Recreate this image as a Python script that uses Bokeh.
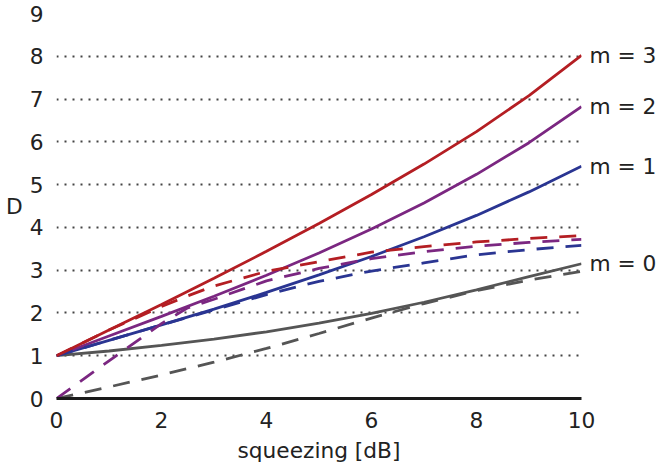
import json
from bokeh.plotting import figure
from bokeh.models import FixedTicker, Range1d, LinearAxis, CustomJSTickFormatter
from bokeh.embed import file_html
from bokeh.resources import INLINE

# data
x_solid = [0, 1, 2, 3, 4, 5, 6, 7, 8, 9, 10]
m3_solid = [1, 1.6, 2.2, 2.81, 3.44, 4.09, 4.77, 5.48, 6.24, 7.08, 8.02]
m2_solid = [1, 1.46, 1.92, 2.39, 2.88, 3.4, 3.96, 4.57, 5.24, 5.98, 6.82]
m1_solid = [1, 1.36, 1.72, 2.09, 2.48, 2.89, 3.32, 3.78, 4.28, 4.83, 5.43]
m0_solid = [1, 1.11, 1.24, 1.39, 1.56, 1.76, 1.99, 2.25, 2.54, 2.85, 3.15]

x_dash = [0, 1, 2, 2.5, 3, 4, 5, 6, 7, 8, 9, 10]
m3_dash = [1, 1.6, 2.15, 2.4, 2.63, 2.97, 3.2, 3.42, 3.55, 3.66, 3.74, 3.81]
m2_dash = [0, 0.88, 1.75, 2.12, 2.32, 2.75, 3.04, 3.27, 3.43, 3.56, 3.65, 3.72]
m1_dash = [1, 1.36, 1.72, 1.9, 2.07, 2.43, 2.74, 2.98, 3.17, 3.36, 3.48, 3.58]
m0_dash = [0, 0.27, 0.55, 0.7, 0.85, 1.17, 1.52, 1.88, 2.22, 2.52, 2.77, 2.97]

labels = ["m = 0", "m = 1", "m = 2", "m = 3"]
x_ticks = [0, 2, 4, 6, 8, 10]
y_ticks = [0, 1, 2, 3, 4, 5, 6, 7, 8, 9]

colors = ["#555555", "#2a3592", "#7b2781", "#b41e23"]
FONT = "DejaVu Sans"
FS = "21.7px"
TXT = "#222222"

p = figure(width=661, height=465, output_backend="svg", toolbar_location=None,
           x_range=Range1d(0, 10), y_range=Range1d(0, 9),
           min_border_left=56, min_border_right=80, min_border_top=13, min_border_bottom=60)
p.outline_line_color = None
p.background_fill_color = "white"
p.border_fill_color = "white"

p.xgrid.grid_line_color = None
p.ygrid.grid_line_color = "#444444"
p.ygrid.grid_line_width = 1.8
p.ygrid.grid_line_dash = "2 6"
p.ygrid.ticker = FixedTicker(ticks=y_ticks)


def style_axis(ax):
    ax.major_tick_line_color = None
    ax.minor_tick_line_color = None
    ax.major_label_text_font = FONT
    ax.major_label_text_font_size = FS
    ax.major_label_text_color = TXT
    ax.axis_label_text_font = FONT
    ax.axis_label_text_font_size = FS
    ax.axis_label_text_font_style = "normal"
    ax.axis_label_text_color = TXT


xax = p.below[0]
yax = p.left[0]
style_axis(xax)
style_axis(yax)

xax.ticker = FixedTicker(ticks=x_ticks)
xax.axis_line_width = 3
xax.axis_line_color = "#1a1a1a"
xax.axis_label = "squeezing [dB]"
xax.major_label_standoff = 7
xax.axis_label_standoff = 7

yax.ticker = FixedTicker(ticks=y_ticks)
yax.axis_line_color = None
yax.axis_label = "D"
yax.axis_label_orientation = "horizontal"
yax.major_label_standoff = 7
yax.axis_label_standoff = 4

solids = [m0_solid, m1_solid, m2_solid, m3_solid]
dashes = [m0_dash, m1_dash, m2_dash, m3_dash]

for ys, c in zip(solids, colors):
    p.line(x_solid, ys, line_color=c, line_width=2.8)
for ys, c in zip(dashes, colors):
    p.line(x_dash, ys, line_color=c, line_width=2.8, line_dash="17 12")

# curve labels at the right end of each solid curve, as a right-hand axis
ends = [ys[-1] for ys in solids]
mapping = {str(v): lab for v, lab in zip(ends, labels)}
rax = LinearAxis(ticker=FixedTicker(ticks=ends),
                 formatter=CustomJSTickFormatter(
                     code="const m = %s; const k = String(tick); return (k in m) ? m[k] : '';" % json.dumps(mapping)))
style_axis(rax)
rax.axis_line_color = None
rax.major_label_standoff = 2
p.add_layout(rax, "right")

open("out.html", "w").write(file_html(p, INLINE))
